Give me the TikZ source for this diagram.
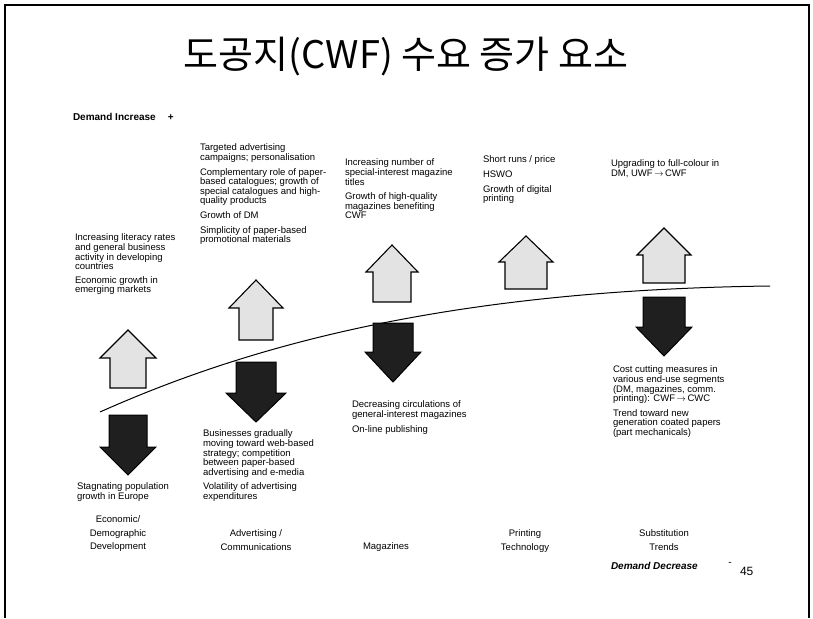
\documentclass[tikz,border=0pt]{standalone}
\usepackage{fontspec}
\setmainfont{Liberation Sans}
\newfontfamily\krfont{Noto Sans CJK KR}
% arrow shape: #1 style, #2 x of tip, #3 y of tip, #4 y of head base, #5 y of tail, #6 head half width, #7 shaft half width
\newcommand{\cwfarrow}[7]{%
  \draw[#1] (#2,#3) -- (#2+#6,#4) -- (#2+#7,#4) -- (#2+#7,#5) -- (#2-#7,#5) -- (#2-#7,#4) -- (#2-#6,#4) -- cycle;}
\newcommand{\cwfto}{\,$\rightarrow$\,}

\begin{document}
\begin{tikzpicture}[x=1pt,y=-1pt,line join=miter,
  every node/.style={inner sep=0pt,outer sep=0pt},
  upbox/.style={draw,line width=1.1pt,fill=gray!22},
  downbox/.style={draw,line width=1pt,fill=black!88},
  cwftext/.style={anchor=north west,align=left,font=\fontsize{9.5}{9.6}\selectfont},
  cwfcat/.style={anchor=north,align=center,font=\fontsize{9.5}{13.5}\selectfont}]
  \path[use as bounding box] (0,0) rectangle (813,618);  % source canvas 813x618px
  % ---- frame (open at the bottom) ----
  \draw[line width=2pt] (5,618) -- (5,5) -- (809,5) -- (809,618);
  % ---- title ----
  \node[font=\krfont\fontsize{38}{42}\selectfont] (title) at (406,57) {도공지(CWF) 수요 증가 요소};
  \node[anchor=west,font=\bfseries\fontsize{10}{12}\selectfont] (inc) at (73,117) {Demand Increase\hspace{12pt}+};
  % ---- demand curve ----
  \coordinate (cl) at (100,412);
  \coordinate (cr) at (770,286);
  \draw[line width=1pt] (cl) .. controls (250,345) and (450,290) .. (cr);
  % ---- up arrows (light) and down arrows (dark): tip, head base, tail ----
  \cwfarrow{upbox}{128}{330}{358}{388}{28}{18}     % economic / demographic
  \cwfarrow{downbox}{128}{475}{447}{415}{28}{19}
  \cwfarrow{upbox}{256}{280}{308}{340}{27}{17}     % advertising
  \cwfarrow{downbox}{256}{422}{393}{362}{30}{20}
  \cwfarrow{upbox}{392}{245}{272}{302}{26}{19}     % magazines
  \cwfarrow{downbox}{393}{382}{352}{323}{28}{20}
  \cwfarrow{upbox}{526}{236}{262}{289}{27}{21}     % printing
  \cwfarrow{upbox}{664}{228}{255}{283}{27}{21}     % substitution
  \cwfarrow{downbox}{664}{356}{327}{297}{28}{21}
  % ---- texts above the curve ----
  \node[cwftext] (c1up) at (75,234) {Increasing literacy rates\\and general business\\activity in developing\\countries\\[4pt]Economic growth in\\emerging markets};
  \node[cwftext] (c2up) at (200,144) {Targeted advertising\\campaigns; personalisation\\[5pt]Complementary role of paper-\\based catalogues; growth of\\special catalogues and high-\\quality products\\[5pt]Growth of DM\\[5pt]Simplicity of paper-based\\promotional materials};
  \node[cwftext] (c3up) at (345,159) {Increasing number of\\special-interest magazine\\titles\\[5pt]Growth of high-quality\\magazines benefiting\\CWF};
  \node[cwftext] (c4up) at (483,156) {Short runs / price\\[5pt]HSWO\\[5pt]Growth of digital\\printing};
  \node[cwftext] (c5up) at (611,160) {Upgrading to full-colour in\\DM, UWF\cwfto CWF};
  % ---- texts below the curve ----
  \node[cwftext] (c1dn) at (77,483) {Stagnating population\\growth in Europe};
  \node[cwftext] (c2dn) at (203,430) {Businesses gradually\\moving toward web-based\\strategy; competition\\between paper-based\\advertising and e-media\\[5pt]Volatility of advertising\\expenditures};
  \node[cwftext] (c3dn) at (352,401) {Decreasing circulations of\\general-interest magazines\\[5pt]On-line publishing};
  \node[cwftext] (c5dn) at (613,366) {Cost cutting measures in\\various end-use segments\\(DM, magazines, comm.\\printing): CWF\cwfto CWC\\[5pt]Trend toward new\\generation coated papers\\(part mechanicals)};
  % ---- categories ----
  \node[cwfcat] (cat1) at (118,516) {Economic/\\Demographic\\Development};
  \node[cwfcat] (cat2) at (256,530) {Advertising /\\Communications};
  \node[cwfcat] (cat3) at (386,543) {Magazines};
  \node[cwfcat] (cat4) at (525,530) {Printing\\Technology};
  \node[cwfcat] (cat5) at (664,530) {Substitution\\Trends};
  % ---- bottom right ----
  \node[anchor=west,font=\bfseries\itshape\fontsize{10}{12}\selectfont] (dec) at (611,566) {Demand Decrease};
  \node[font=\fontsize{10}{12}\selectfont] (minus) at (730,564) {-};
  \node[anchor=west,font=\fontsize{12}{14}\selectfont] (page) at (740,571) {45};
\end{tikzpicture}
\end{document}
